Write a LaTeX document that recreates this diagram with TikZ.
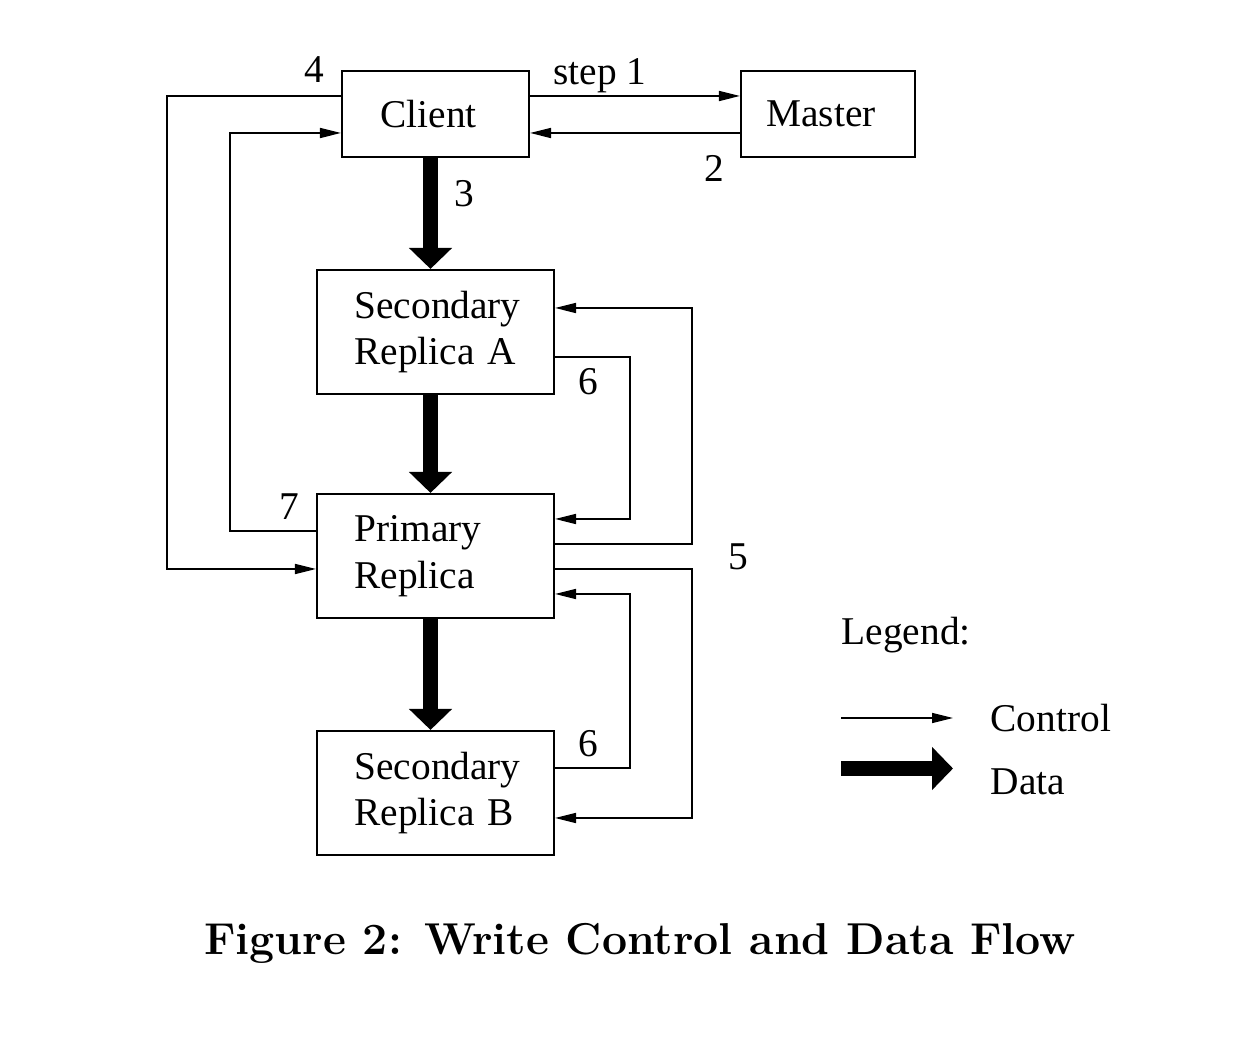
\documentclass[tikz,border=0pt]{standalone}
\usepackage{fontspec}
\usepackage{tikz}
\usetikzlibrary{arrows.meta}
\newfontfamily\figfont{Liberation Serif}

\begin{document}
\begin{tikzpicture}[x=1cm,y=-1cm,
    font=\figfont\fontsize{11.2}{13.2}\selectfont,
    box/.style={draw,line width=0.6pt,minimum width=2.37cm,minimum height=1.24cm,inner sep=0pt},
    twoline/.style={box,text width=1.62cm,align=left},
    ctrl/.style={line width=0.45pt,-{Triangle[length=2.1mm,width=1mm]}},
    data/.style={line width=1.5mm,-{Triangle[length=2.1mm,width=4.2mm]}},
    lbl/.style={anchor=base}]
  \useasboundingbox (0,0) rectangle (12.44,10.52);
  % boxes
  \node[box,minimum width=1.87cm,minimum height=0.86cm] (client) at (4.355,1.14) {Client\kern1.4mm};
  \node[box,minimum width=1.74cm,minimum height=0.86cm] (master) at (8.28,1.14) {Master\kern1.4mm};
  \node[twoline] (secA) at (4.355,3.32) {Secondary\\Replica A};
  \node[twoline] (primary) at (4.355,5.56) {Primary\\Replica};
  \node[twoline] (secB) at (4.355,7.93) {Secondary\\Replica B};
  % data: thick arrows down the chain
  \draw[data] ([xshift=-0.5mm]client.south) -- ([xshift=-0.5mm]secA.north);
  \draw[data] ([xshift=-0.5mm]secA.south) -- ([xshift=-0.5mm]primary.north);
  \draw[data] ([xshift=-0.5mm]primary.south) -- ([xshift=-0.5mm]secB.north);
  % control: client and master
  \draw[ctrl] ([yshift=1.8mm]client.east) -- ([yshift=1.8mm]master.west);
  \draw[ctrl] ([yshift=-1.9mm]master.west) -- ([yshift=-1.9mm]client.east);
  % control: client and primary
  \draw[ctrl] ([yshift=1.8mm]client.west) -- ++(-1.74,0) |- ([yshift=-1.3mm]primary.west);
  \draw[ctrl] ([yshift=2.5mm]primary.west) -- ++(-0.86,0) |- ([yshift=-1.9mm]client.west);
  % control: primary and secondaries
  \draw[ctrl] ([yshift=1.2mm]primary.east) -- ++(1.37,0) |- ([yshift=2.4mm]secA.east);
  \draw[ctrl] ([yshift=-2.5mm]secA.east) -- ++(0.75,0) |- ([yshift=3.7mm]primary.east);
  \draw[ctrl] ([yshift=-1.3mm]primary.east) -- ++(1.37,0) |- ([yshift=-2.5mm]secB.east);
  \draw[ctrl] ([yshift=2.5mm]secB.east) -- ++(0.75,0) |- ([yshift=-3.8mm]primary.east);
  % step numbers
  \node[lbl] (n4) at (3.14,0.83) {4};
  \node[lbl] (n1) at (6.00,0.85) {step 1};
  \node[lbl] (n2) at (7.14,1.82) {2};
  \node[lbl] (n3) at (4.64,2.07) {3};
  \node[lbl] (n6a) at (5.885,3.95) {6};
  \node[lbl] (n7) at (2.895,5.20) {7};
  \node[lbl] (n5) at (7.385,5.70) {5};
  \node[lbl] (n6b) at (5.88,7.57) {6};
  % legend
  \node[anchor=base west,inner sep=0pt] (legend) at (8.41,6.45) {Legend:};
  \coordinate (ctlA) at (8.41,7.18);
  \coordinate (ctlB) at (9.53,7.18);
  \draw[ctrl] (ctlA) -- (ctlB);
  \node[anchor=base west,inner sep=0pt] (ctltxt) at (9.90,7.32) {Control};
  \coordinate (datA) at (8.41,7.685);
  \coordinate (datB) at (9.53,7.685);
  \draw[data] (datA) -- (datB);
  \node[anchor=base west,inner sep=0pt] (dattxt) at (9.90,7.95) {Data};
  % caption
  \node[anchor=base,font=\normalfont\bfseries\fontsize{12.7}{15}\selectfont] (caption) at (6.40,9.55) {Figure 2: Write Control and Data Flow};
\end{tikzpicture}
\end{document}
